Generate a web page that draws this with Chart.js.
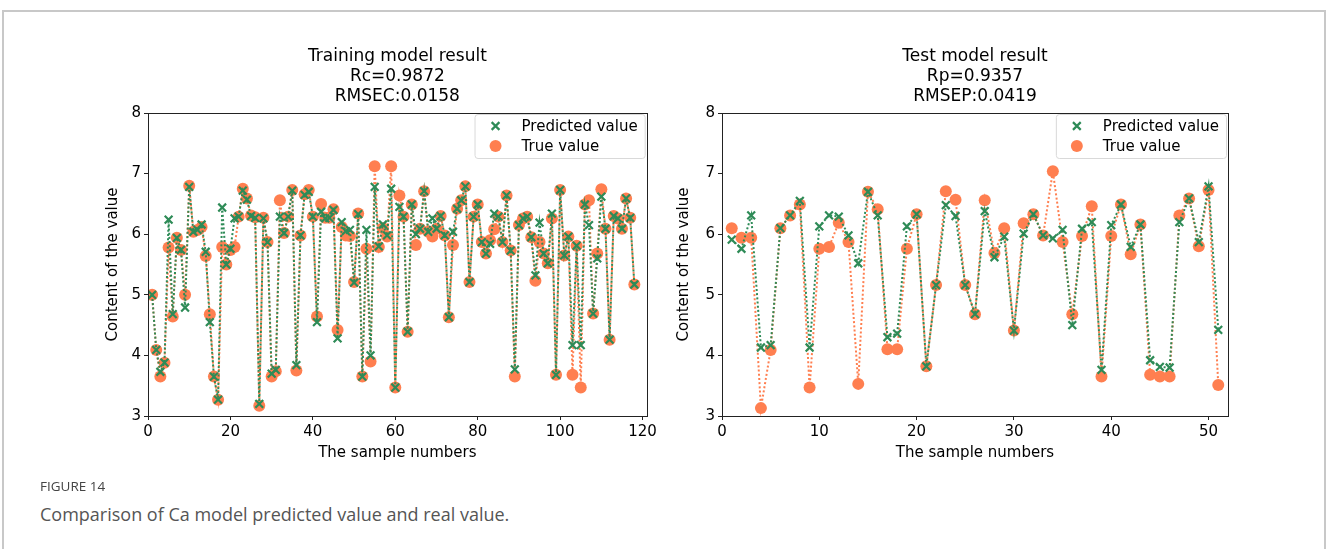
<!DOCTYPE html>
<html>
<head>
<meta charset="utf-8">
<script src="https://cdn.jsdelivr.net/npm/chart.js@4.4.1/dist/chart.umd.min.js"></script>
<style>
  body { margin: 0; background: #fff; width: 1328px; height: 549px; overflow: hidden; position: relative; }
  #frame { position: absolute; left: 2px; top: 10px; width: 1324px; height: 600px; border: 2px solid #c8c8c8; box-sizing: border-box; }
  canvas { position: absolute; top: 20px; }
  #c1 { left: 40px; }
  #c2 { left: 660px; }
  .fig { position: absolute; left: 40px; top: 478px; font: 13.5px "Open Sans"; color: #444; line-height: 16px; }
  .cap { position: absolute; left: 40px; top: 502px; font: 18px "Open Sans"; color: #555; line-height: 24px; }
</style>
</head>
<body>
<div id="frame"></div>
<canvas id="c1" width="620" height="460" style="width:620px;height:460px"></canvas>
<canvas id="c2" width="620" height="460" style="width:620px;height:460px"></canvas>
<div class="fig">FIGURE 14</div>
<div class="cap">Comparison of Ca model predicted value and real value.</div>
<script>
// training set (calibration), sample 1..118
const trainTrue = [5.0, 4.09, 3.65, 3.88, 5.78, 4.64, 5.94, 5.74, 5.0, 6.8,
  6.04, 6.07, 6.12, 5.64, 4.68, 3.65, 3.27, 5.79, 5.5, 5.74,
  5.79, 6.29, 6.75, 6.59, 6.31, 6.28, 3.17, 6.27, 5.87, 3.65,
  3.74, 6.56, 6.02, 6.29, 6.73, 3.75, 5.98, 6.66, 6.73, 6.29,
  4.64, 6.5, 6.27, 6.27, 6.41, 4.42, 6.12, 5.98, 5.97, 5.21,
  6.34, 3.65, 5.76, 3.9, 7.12, 5.79, 6.1, 5.96, 7.12, 3.47,
  6.64, 6.29, 4.39, 6.49, 5.82, 6.09, 6.71, 6.04, 5.96, 6.09,
  6.3, 5.98, 4.63, 5.82, 6.42, 6.56, 6.79, 5.21, 6.29, 6.49,
  5.87, 5.68, 5.9, 6.08, 6.29, 5.87, 6.64, 5.73, 3.65, 6.15,
  6.26, 6.29, 5.95, 5.23, 5.87, 5.68, 5.52, 6.26, 3.68, 6.73,
  5.65, 5.96, 3.68, 5.81, 3.47, 6.49, 6.56, 4.69, 5.68, 6.74,
  6.09, 4.26, 6.3, 6.26, 6.09, 6.59, 6.27, 5.17];
const trainPred = [5.0, 4.09, 3.73, 3.88, 6.24, 4.68, 5.94, 5.74, 4.79, 6.78,
  6.04, 6.07, 6.16, 5.71, 4.55, 3.65, 3.27, 6.44, 5.5, 5.76,
  6.26, 6.29, 6.72, 6.57, 6.3, 6.27, 3.2, 6.26, 5.87, 3.7,
  3.76, 6.29, 6.02, 6.29, 6.72, 3.84, 5.98, 6.65, 6.7, 6.29,
  4.55, 6.37, 6.26, 6.27, 6.4, 4.28, 6.2, 6.05, 6.07, 5.2,
  6.33, 3.65, 6.07, 4.0, 6.78, 5.8, 6.16, 5.98, 6.75, 3.47,
  6.45, 6.29, 4.39, 6.49, 6.0, 6.09, 6.71, 6.04, 6.26, 6.09,
  6.3, 5.98, 4.63, 6.04, 6.42, 6.56, 6.79, 5.21, 6.29, 6.49,
  5.87, 5.68, 5.84, 6.34, 6.29, 5.87, 6.64, 5.73, 3.77, 6.15,
  6.26, 6.29, 5.95, 5.32, 6.19, 5.68, 5.52, 6.34, 3.68, 6.73,
  5.65, 5.96, 4.17, 5.81, 4.17, 6.49, 6.15, 4.69, 5.6, 6.62,
  6.09, 4.26, 6.3, 6.26, 6.09, 6.59, 6.27, 5.17];

// test set (prediction), sample 1..51
const testTrue = [6.1, 5.94, 5.94, 3.13, 4.09, 6.1, 6.31, 6.49, 3.47, 5.76,
  5.79, 6.19, 5.87, 3.53, 6.7, 6.41, 4.1, 4.1, 5.76, 6.33,
  3.82, 5.16, 6.71, 6.57, 5.16, 4.68, 6.56, 5.69, 6.1, 4.41,
  6.18, 6.33, 5.98, 7.04, 5.87, 4.68, 5.97, 6.46, 3.65, 5.97,
  6.49, 5.67, 6.16, 3.68, 3.65, 3.65, 6.31, 6.59, 5.8, 6.73, 3.51];
const testPred = [5.91, 5.76, 6.31, 4.13, 4.17, 6.1, 6.31, 6.55, 4.13, 6.13,
  6.31, 6.29, 5.98, 5.52, 6.7, 6.31, 4.3, 4.36, 6.13, 6.33,
  3.82, 5.16, 6.48, 6.3, 5.16, 4.68, 6.38, 5.62, 5.96, 4.41,
  6.01, 6.33, 5.98, 5.93, 6.07, 4.5, 6.09, 6.2, 3.76, 6.15,
  6.49, 5.79, 6.16, 3.92, 3.81, 3.8, 6.2, 6.59, 5.87, 6.79, 4.42];

const yTicks = [3, 4, 5, 6, 7, 8];
const trainXTicks = [0, 20, 40, 60, 80, 100, 120];
const testXTicks = [0, 10, 20, 30, 40, 50];
const trainXMax = 121;
const testXMax = 52;
const trainTitle = ['Training model result', 'Rc=0.9872', 'RMSEC:0.0158'];
const testTitle = ['Test model result', 'Rp=0.9357', 'RMSEP:0.0419'];

const GREEN = '#2e8b57';
const CORAL = '#ff7f50';
const FONT = 'DejaVu Sans';

const toPoints = arr => arr.map((v, i) => ({ x: i + 1, y: v }));

// box around the plot area (matplotlib spines)
const spines = {
  id: 'spines',
  afterDraw(chart) {
    const { ctx, chartArea: a } = chart;
    ctx.save();
    ctx.strokeStyle = '#222';
    ctx.lineWidth = 1;
    ctx.strokeRect(Math.round(a.left) + 0.5, Math.round(a.top) + 0.5,
      Math.round(a.right - a.left), Math.round(a.bottom - a.top));
    ctx.restore();
  }
};

// legend box in the upper right corner of the axes
const boxLegend = {
  id: 'boxLegend',
  afterDraw(chart) {
    const { ctx, chartArea: a } = chart;
    const sets = chart.data.datasets;
    ctx.save();
    ctx.font = '15px "' + FONT + '"';
    const tw = Math.max(...sets.map(d => ctx.measureText(d.label).width));
    const w = tw + 54, h = 44;
    const x0 = a.right - w - 2, y0 = a.top + 1;
    ctx.fillStyle = 'rgba(255,255,255,0.85)';
    ctx.strokeStyle = '#d9d9d9';
    ctx.lineWidth = 1;
    ctx.beginPath();
    ctx.roundRect(x0 + 0.5, y0 + 0.5, w, h, 3);
    ctx.fill();
    ctx.stroke();
    sets.forEach((d, i) => {
      const cy = y0 + 12 + i * 20;
      ctx.fillStyle = d.pointBackgroundColor;
      ctx.strokeStyle = d.pointBorderColor;
      ctx.lineWidth = d.pointBorderWidth;
      Chart.helpers.drawPoint(ctx, {
        pointStyle: d.pointStyle, radius: d.pointRadius,
        borderWidth: d.pointBorderWidth, rotation: 0
      }, x0 + 21, cy);
      ctx.fillStyle = '#000';
      ctx.textBaseline = 'middle';
      ctx.textAlign = 'left';
      ctx.fillText(d.label, x0 + 47, cy + 1);
    });
    ctx.restore();
  }
};

function makeChart(id, pred, truth, title, xTicks, xMax, padL, padR, yW) {
  return new Chart(document.getElementById(id), {
    type: 'line',
    data: {
      datasets: [
        {
          label: 'Predicted value',
          data: toPoints(pred),
          borderColor: GREEN,
          borderWidth: 2,
          borderDash: [2, 2.2],
          pointStyle: 'crossRot',
          pointRadius: 5.5,
          pointBorderWidth: 2.2,
          pointBorderColor: GREEN,
          pointBackgroundColor: GREEN,
          tension: 0
        },
        {
          label: 'True value',
          data: toPoints(truth),
          borderColor: CORAL,
          borderWidth: 2,
          borderDash: [2, 2.2],
          pointStyle: 'circle',
          pointRadius: 6,
          pointBorderWidth: 0,
          pointBorderColor: CORAL,
          pointBackgroundColor: CORAL,
          tension: 0
        }
      ]
    },
    options: {
      responsive: false,
      animation: false,
      layout: { padding: { left: padL, right: padR, top: 0, bottom: 14 } },
      plugins: {
        legend: { display: false },
        tooltip: { enabled: false },
        title: {
          display: true,
          fullSize: false,
          text: title,
          color: '#000',
          font: { family: FONT, size: 17, weight: 'normal', lineHeight: '20px' },
          padding: { top: 27, bottom: 6 }
        }
      },
      scales: {
        x: {
          type: 'linear',
          min: 0,
          max: xMax,
          afterBuildTicks: s => { s.ticks = xTicks.map(v => ({ value: v })); },
          afterFit: s => { s.height = 50; },
          ticks: { color: '#000', font: { family: FONT, size: 15 }, padding: 3, maxRotation: 0, autoSkip: false },
          grid: { display: true, drawOnChartArea: false, drawTicks: true, tickLength: 4, color: '#222' },
          border: { display: false },
          title: { display: true, text: 'The sample numbers', color: '#000', font: { family: FONT, size: 15 }, padding: { top: 2, bottom: 4 } }
        },
        y: {
          min: yTicks[0],
          max: yTicks[yTicks.length - 1],
          afterBuildTicks: s => { s.ticks = yTicks.map(v => ({ value: v })); },
          afterFit: s => { s.width = yW; },
          ticks: { color: '#000', font: { family: FONT, size: 15 }, padding: 3 },
          grid: { display: true, drawOnChartArea: false, drawTicks: true, tickLength: 4, color: '#222' },
          border: { display: false },
          title: { display: true, text: 'Content of the value', color: '#000', font: { family: FONT, size: 15 }, padding: { top: 4, bottom: 4 } }
        }
      }
    },
    plugins: [spines, boxLegend]
  });
}

makeChart('c1', trainPred, trainTrue, trainTitle, trainXTicks, trainXMax, 60, 12, 48);
makeChart('c2', testPred, testTrue, testTitle, testXTicks, testXMax, 11, 52, 51);
</script>
</body>
</html>
